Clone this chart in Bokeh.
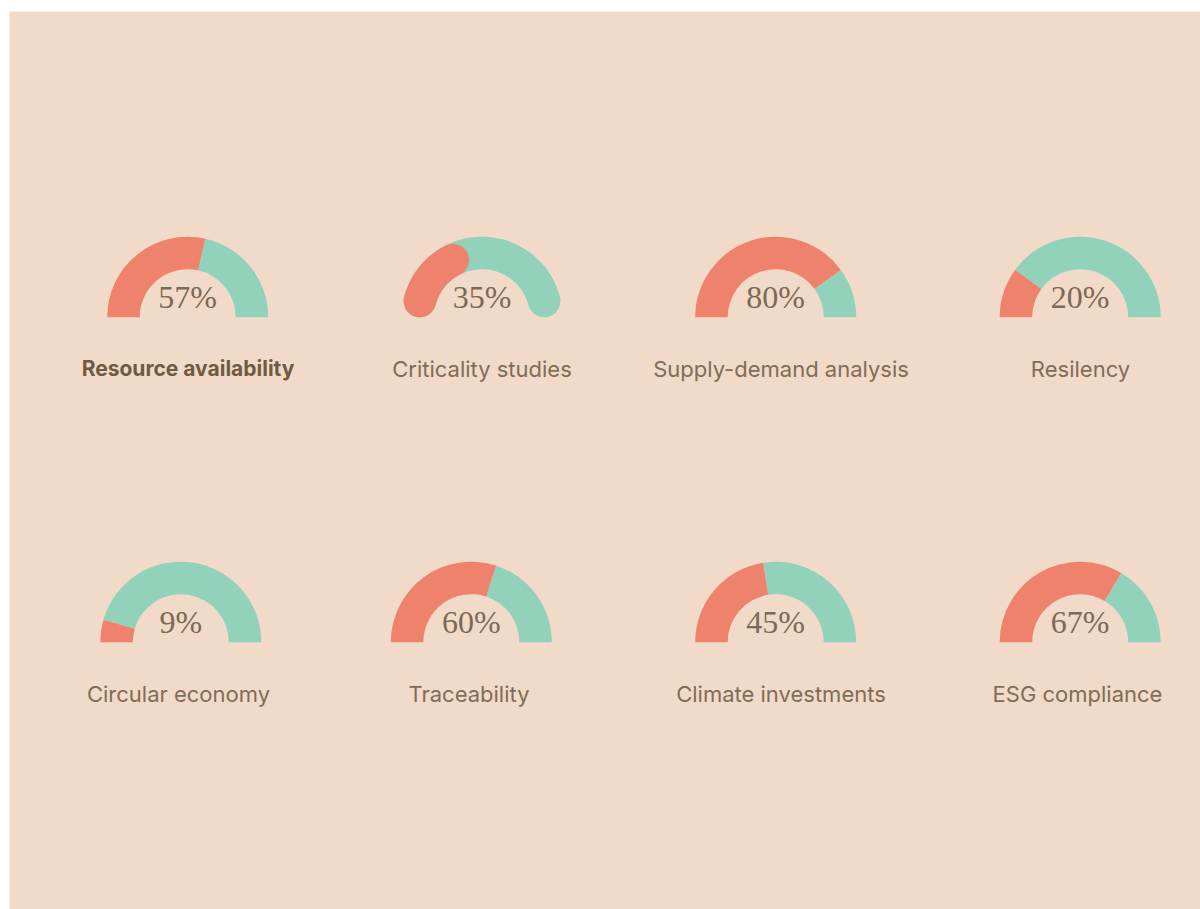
import math
from bokeh.plotting import figure
from bokeh.models import Range1d
from bokeh.core.properties import value
from bokeh.embed import file_html
from bokeh.resources import INLINE

# ---- data ----
labels = ["Resource availability", "Criticality studies", "Supply-demand analysis", "Resilency",
          "Circular economy", "Traceability", "Climate investments", "ESG compliance"]
percents = [57, 35, 80, 20, 9, 60, 45, 67]
round_caps = [False, True, False, False, False, False, False, False]

# ---- layout (page pixel coordinates) ----
gauge_x = [187.2, 481.5, 775.2, 1079.7, 180.3, 470.8, 775.2, 1079.7]
gauge_y = [316.7, 316.7, 316.7, 316.7, 641.7, 641.7, 641.7, 641.7]
label_x = [187.5, 481.5, 780.5, 1080.0, 178.0, 468.5, 780.5, 1077.0]

BG = "#F1DAC8"
RED = "#EE826C"
TEAL = "#92D2BB"
R_OUT, R_IN = 80.5, 48.0

X0, Y0, X1, Y1 = 9, 11, 1200, 909

p = figure(width=X1, height=Y1, output_backend="svg", toolbar_location=None,
           x_range=Range1d(X0, X1), y_range=Range1d(0, Y1 - Y0),
           min_border_left=X0, min_border_top=Y0, min_border_right=0, min_border_bottom=0,
           border_fill_color="white", background_fill_color=BG, outline_line_color=None)
p.axis.visible = False
p.grid.visible = False


def yd(py):
    return Y1 - py


for i, (lab, pct) in enumerate(zip(labels, percents)):
    cx, cy = gauge_x[i], yd(gauge_y[i])
    frac = pct / 100.0
    split = math.pi * (1 - frac)
    if round_caps[i]:
        rc = (R_OUT + R_IN) / 2
        lw = R_OUT - R_IN
        off = math.asin((lw / 2) / rc)
        p.arc(x=[cx], y=[cy], radius=rc, start_angle=off, end_angle=math.pi - off,
              line_color=TEAL, line_width=lw, line_cap="round")
        p.arc(x=[cx], y=[cy], radius=rc, start_angle=split, end_angle=math.pi - off,
              line_color=RED, line_width=lw, line_cap="round")
    else:
        p.annular_wedge(x=[cx], y=[cy], inner_radius=R_IN, outer_radius=R_OUT,
                        start_angle=0, end_angle=split, fill_color=TEAL, line_color=None)
        p.annular_wedge(x=[cx], y=[cy], inner_radius=R_IN, outer_radius=R_OUT,
                        start_angle=split, end_angle=math.pi, fill_color=RED, line_color=None)
    p.text(x=[cx], y=[cy + 20.5], text=[f"{pct}%"], text_align="center",
           text_baseline="alphabetic", text_font=value("Liberation Serif"),
           text_font_size="32px", text_color="#7B6A55")
    bold = (i == 0)
    p.text(x=[label_x[i]], y=[cy - 51.5], text=[lab], text_align="center",
           text_baseline="alphabetic", text_font=value("Inter"),
           text_font_size="21px" if bold else "22px",
           text_font_style="bold" if bold else "normal",
           text_color="#6E5B42" if bold else "#7F6D57")

open("out.html", "w").write(file_html(p, INLINE))
